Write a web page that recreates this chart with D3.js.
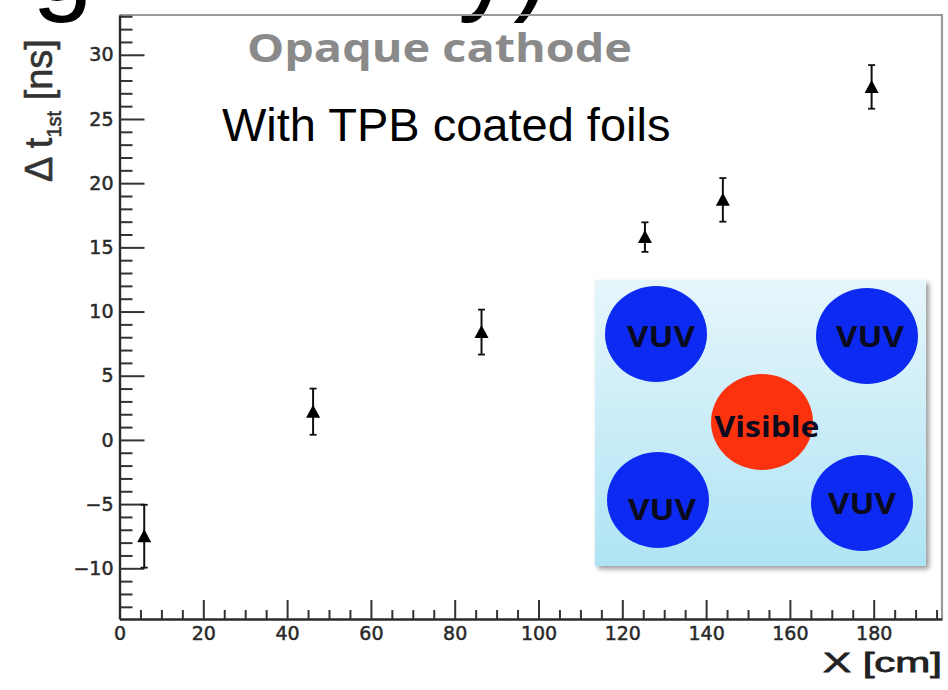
<!DOCTYPE html>
<html>
<head>
<meta charset="utf-8">
<script src="https://cdn.jsdelivr.net/npm/d3@7"></script>
<style>
  body { margin: 0; background: #fff; }
  svg { display: block; }
</style>
</head>
<body>
<div id="container"></div>
<script>
/**
 * CONSTANTS AND GLOBALS
 * */
const width = 948,
  height = 690,
  margin = { top: 15, bottom: 71, left: 119.5, right: 6 };

// data: position along X [cm], delta t 1st [ns], error [ns]
const xPos = [5.9, 46.2, 86.4, 125.4, 144.0, 179.5];
const deltaT = [-7.5, 2.2, 8.4, 15.8, 18.7, 27.5];
const deltaErr = [2.45, 1.8, 1.75, 1.15, 1.7, 1.7];

// axis ticks
const xTicks = [0, 20, 40, 60, 80, 100, 120, 140, 160, 180];
const xMinorTicks = [5, 10, 15, 25, 30, 35, 45, 50, 55, 65, 70, 75, 85, 90, 95,
  105, 110, 115, 125, 130, 135, 145, 150, 155, 165, 170, 175, 185, 190, 195];
const yTicks = [-10, -5, 0, 5, 10, 15, 20, 25, 30];
const yMinorTicks = d3.range(-13, 34).filter(v => v % 5 !== 0);

// inset labels
const insetLabels = ["VUV", "VUV", "Visible", "VUV", "VUV"];

let svg;

init();

function init() {
  svg = d3.select("#container")
    .append("svg")
    .attr("width", width)
    .attr("height", height)
    .style("background-color", "#fff");

  const defs = svg.append("defs");
  const grad = defs.append("linearGradient")
    .attr("id", "insetGrad")
    .attr("x1", 0).attr("y1", 0).attr("x2", 0).attr("y2", 1);
  grad.append("stop").attr("offset", "0%").attr("stop-color", "#e6f6fb");
  grad.append("stop").attr("offset", "100%").attr("stop-color", "#afe4f4");

  const shadow = defs.append("filter")
    .attr("id", "shadow")
    .attr("x", "-10%").attr("y", "-10%").attr("width", "130%").attr("height", "130%");
  shadow.append("feDropShadow")
    .attr("dx", 3).attr("dy", 3).attr("stdDeviation", 2.5)
    .attr("flood-color", "#555").attr("flood-opacity", 0.6);

  const soft = defs.append("filter").attr("id", "soft");
  soft.append("feGaussianBlur").attr("stdDeviation", 0.6);

  const x = d3.scaleLinear()
    .domain([0, 196.3])
    .range([margin.left, width - margin.right]);

  const y = d3.scaleLinear()
    .domain([-13.95, 33.1])
    .range([height - margin.bottom, margin.top]);

  // cut off slide title pieces at the very top
  svg.append("text")
    .attr("x", 32).attr("y", 0)
    .attr("font-family", "Liberation Sans, Arial, sans-serif")
    .attr("font-size", 110)
    .attr("fill", "#000")
    .text("g");
  svg.append("text")
    .attr("x", 458).attr("y", 0)
    .attr("font-family", "Liberation Sans, Arial, sans-serif")
    .attr("font-size", 110)
    .attr("fill", "#000")
    .text("y)");

  // frame (top and right)
  svg.append("path")
    .attr("d", `M${x(0)},${y.range()[1]}H${x.range()[1]}V${y.range()[0]}`)
    .attr("fill", "none")
    .attr("stroke", "#9a9a9a")
    .attr("stroke-width", 2.2)
    .attr("filter", "url(#soft)");

  // minor ticks
  const xMinorAxis = svg.append("g")
    .attr("transform", `translate(0,${y.range()[0]})`)
    .call(d3.axisBottom(x).tickValues(xMinorTicks).tickSize(-9).tickFormat(""));
  xMinorAxis.select(".domain").remove();

  const yMinorAxis = svg.append("g")
    .attr("transform", `translate(${x.range()[0]},0)`)
    .call(d3.axisLeft(y).tickValues(yMinorTicks).tickSize(-13).tickFormat(""));
  yMinorAxis.select(".domain").remove();

  // major axes
  svg.append("g")
    .attr("transform", `translate(0,${y.range()[0]})`)
    .call(d3.axisBottom(x).tickValues(xTicks).tickSize(-19).tickSizeOuter(0).tickPadding(8));

  svg.append("g")
    .attr("transform", `translate(${x.range()[0]},0)`)
    .call(d3.axisLeft(y).tickValues(yTicks).tickSize(-25).tickSizeOuter(0).tickPadding(6));

  svg.selectAll(".tick line").attr("stroke", "#333").attr("stroke-width", 2);
  svg.selectAll(".domain").attr("stroke", "#2a2a2a").attr("stroke-width", 2.4);
  svg.selectAll(".tick text")
    .attr("font-family", "DejaVu Sans, sans-serif")
    .attr("font-size", 19)
    .attr("fill", "#2a2a2a")
    .attr("stroke", "#2a2a2a")
    .attr("stroke-width", 0.5);

  // axis titles
  svg.append("text")
    .attr("x", 823).attr("y", 672)
    .attr("font-family", "Liberation Sans, Arial, sans-serif")
    .attr("font-size", 27)
    .attr("textLength", 119)
    .attr("lengthAdjust", "spacingAndGlyphs")
    .attr("fill", "#222")
    .attr("stroke", "#222")
    .attr("stroke-width", 0.8)
    .text("X [cm]");

  const yTitle = svg.append("text")
    .attr("transform", "translate(52,182) rotate(-90)")
    .attr("font-family", "Liberation Sans, Arial, sans-serif")
    .attr("font-size", 38)
    .attr("fill", "#333")
    .attr("stroke", "#333")
    .attr("stroke-width", 0.6);
  yTitle.append("tspan").text("Δ t");
  yTitle.append("tspan")
    .attr("font-size", 20)
    .attr("dy", 9)
    .text("1st");
  yTitle.append("tspan")
    .attr("dy", -9)
    .text(" [ns]");

  // plot title
  svg.append("text")
    .attr("x", 247).attr("y", 62)
    .attr("font-family", "Open Sans, sans-serif")
    .attr("font-weight", "bold")
    .attr("font-size", 39)
    .attr("textLength", 385)
    .attr("lengthAdjust", "spacingAndGlyphs")
    .attr("fill", "#8a8a8a")
    .text("Opaque cathode");

  svg.append("text")
    .attr("x", 222).attr("y", 141)
    .attr("font-family", "Liberation Sans, Arial, sans-serif")
    .attr("font-size", 47)
    .attr("fill", "#000")
    .text("With TPB coated foils");

  // data points
  const points = xPos.map((d, i) => ({ x: d, y: deltaT[i], e: deltaErr[i] }));

  const pts = svg.append("g").selectAll("g.pt")
    .data(points)
    .join("g")
    .attr("class", "pt");

  pts.append("line")
    .attr("x1", d => x(d.x)).attr("x2", d => x(d.x))
    .attr("y1", d => y(d.y - d.e)).attr("y2", d => y(d.y + d.e))
    .attr("stroke", "#111").attr("stroke-width", 2);

  pts.selectAll("line.cap")
    .data(d => [d.y - d.e, d.y + d.e].map(v => ({ x: d.x, v })))
    .join("line")
    .attr("class", "cap")
    .attr("x1", d => x(d.x) - 3.5).attr("x2", d => x(d.x) + 3.5)
    .attr("y1", d => y(d.v)).attr("y2", d => y(d.v))
    .attr("stroke", "#111").attr("stroke-width", 1.8);

  pts.append("path")
    .attr("d", d => {
      const cx = x(d.x), cy = y(d.y);
      return `M${cx},${cy - 7}L${cx + 7},${cy + 6}L${cx - 7},${cy + 6}Z`;
    })
    .attr("fill", "#000");

  // inset diagram
  const inset = svg.append("g");
  inset.append("rect")
    .attr("x", 595).attr("y", 280)
    .attr("width", 331).attr("height", 286)
    .attr("fill", "url(#insetGrad)")
    .attr("filter", "url(#shadow)");

  const spots = [
    { cx: 656, cy: 334, tx: 661, ty: 335 },
    { cx: 867, cy: 336, tx: 870, ty: 335 },
    { cx: 762, cy: 422, tx: 767, ty: 425 },
    { cx: 658, cy: 500, tx: 662, ty: 508 },
    { cx: 862, cy: 503, tx: 862, ty: 502 }
  ];

  inset.selectAll("ellipse")
    .data(insetLabels)
    .join("ellipse")
    .attr("cx", (d, i) => spots[i].cx)
    .attr("cy", (d, i) => spots[i].cy)
    .attr("rx", 51).attr("ry", 48)
    .attr("fill", d => d === "Visible" ? "#fb3311" : "#0a2cf2")
    .attr("filter", "url(#soft)");

  inset.selectAll("text")
    .data(insetLabels)
    .join("text")
    .attr("x", (d, i) => spots[i].tx)
    .attr("y", (d, i) => spots[i].ty)
    .attr("text-anchor", "middle")
    .attr("dominant-baseline", "central")
    .attr("font-family", "Open Sans, sans-serif")
    .attr("font-weight", "bold")
    .attr("font-size", 29)
    .attr("textLength", d => d === "Visible" ? 105 : 68)
    .attr("lengthAdjust", "spacingAndGlyphs")
    .attr("fill", "#0b0b20")
    .text(d => d);
}
</script>
</body>
</html>
